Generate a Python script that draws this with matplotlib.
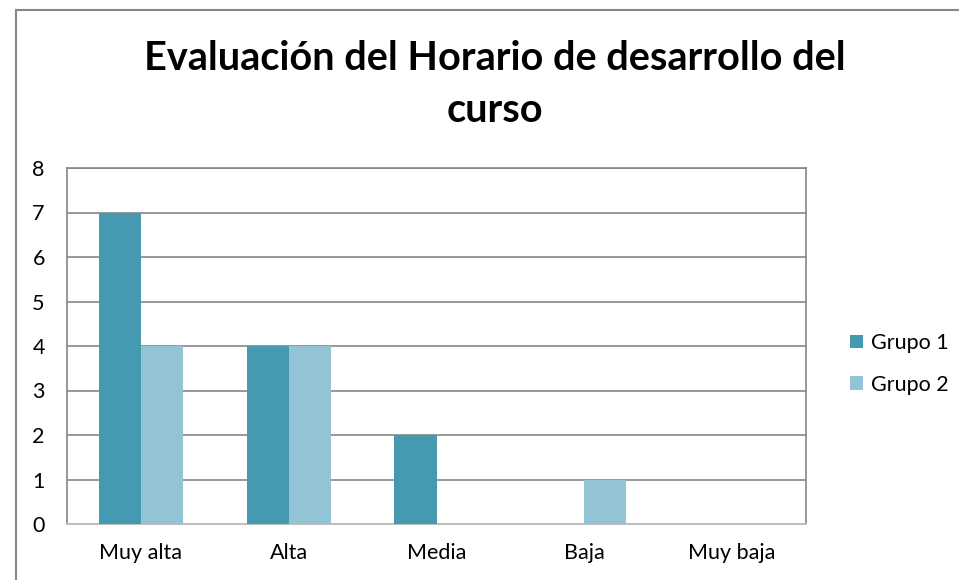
import matplotlib
matplotlib.use("Agg")
import matplotlib.pyplot as plt
import numpy as np
from matplotlib.lines import Line2D

categories = ["Muy alta", "Alta", "Media", "Baja", "Muy baja"]
grupo1 = [7, 4, 2, 0, 0]
grupo2 = [4, 4, 0, 1, 0]
series_names = ["Grupo 1", "Grupo 2"]
yticks = [0, 1, 2, 3, 4, 5, 6, 7, 8]

plt.rcParams['font.family'] = ['Lato', 'DejaVu Sans']

W, H = 959, 580
fig = plt.figure(figsize=(W/100, H/100), dpi=100)

# chart border (cropped)
fig.add_artist(Line2D([16/W, 16/W], [1 - 10/H, -0.1], transform=fig.transFigure, color='#868686', lw=1.5))
fig.add_artist(Line2D([16/W, 1.1], [1 - 10/H, 1 - 10/H], transform=fig.transFigure, color='#868686', lw=1.5))

left, right, top, bottom = 67, 806, 168, 524
ax = fig.add_axes([left/W, 1 - bottom/H, (right-left)/W, (bottom-top)/H])

x = np.arange(len(categories))
w = 0.285
ax.bar(x - w/2, grupo1, w, color='#4599B1', label=series_names[0], zorder=3)
ax.bar(x + w/2, grupo2, w, color='#93C4D6', label=series_names[1], zorder=3)

ax.set_xlim(-0.5, len(categories) - 0.5)
ax.set_ylim(0, 8)
ax.set_yticks(yticks)
ax.set_xticks(x)
ax.set_xticklabels(categories)
ax.tick_params(axis='both', length=0, labelsize=15.5)
ax.tick_params(axis='y', pad=16)
ax.tick_params(axis='x', pad=14)
ax.yaxis.grid(True, color='#868686', lw=1.2, zorder=0)
for s in ['left', 'right', 'top']:
    ax.spines[s].set_color('#868686')
    ax.spines[s].set_linewidth(1.2)
ax.spines['bottom'].set_color('#BFBFBF')
ax.spines['bottom'].set_linewidth(1.5)

fig.text(495/W, 1 - 58/H, "Evaluación del Horario de desarrollo del", ha='center', va='center',
         fontsize=28.5, fontweight='bold')
fig.text(495/W, 1 - 110/H, "curso", ha='center', va='center', fontsize=28.5, fontweight='bold')

leg = fig.legend(loc='center left', bbox_to_anchor=(831/W, 1 - 364/H), frameon=False,
                 fontsize=15.5, handlelength=0.6, handleheight=0.6, handletextpad=0.35,
                 labelspacing=1.0)

fig.savefig("out.png", dpi=100)
